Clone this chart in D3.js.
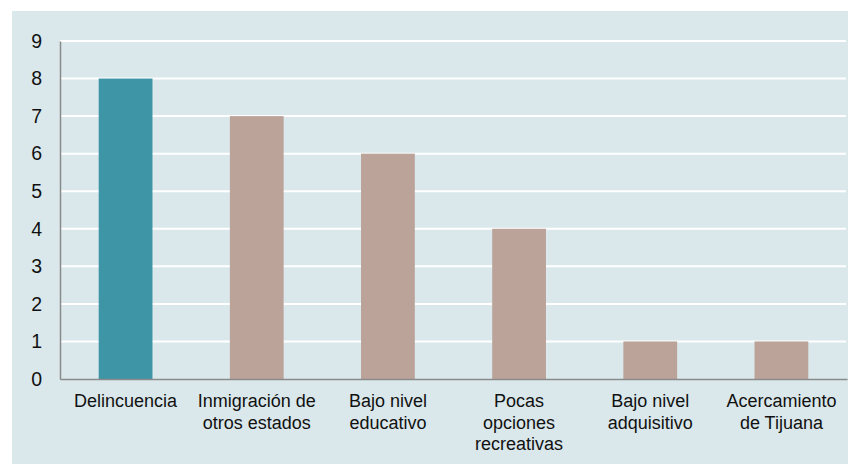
<!DOCTYPE html>
<html lang="es">
<head>
    <meta charset="UTF-8">
    <title>Barras</title>
    <script src="https://d3js.org/d3.v7.min.js"></script>
    <style>
        body { margin: 0; background: #fff; }
    </style>
</head>
<body>
<script>
    const width  = 861;
    const height = 464;

    // datos
    const categories = [
        ["Delincuencia"],
        ["Inmigración de", "otros estados"],
        ["Bajo nivel", "educativo"],
        ["Pocas", "opciones", "recreativas"],
        ["Bajo nivel", "adquisitivo"],
        ["Acercamiento", "de Tijuana"]
    ];
    const values = [8, 7, 6, 4, 1, 1];
    const yTicks = [0, 1, 2, 3, 4, 5, 6, 7, 8, 9];

    const plot = {left: 60, right: 847, top: 41, bottom: 379};

    const svg = d3.select("body")
            .append("svg")
            .attr("width", width)
            .attr("height", height)
            .style("font-family", "'Liberation Sans', Arial, sans-serif");

    // panel de fondo
    svg.append("rect")
            .attr("x", 12).attr("y", 11)
            .attr("width", 836).attr("height", 453)
            .attr("fill", "#dae8eb");

    const x = d3.scaleBand()
            .domain(d3.range(categories.length))
            .range([plot.left, plot.right])
            .paddingInner(0.59)
            .paddingOuter(0.295);

    const y = d3.scaleLinear()
            .domain([0, 9])
            .range([plot.bottom, plot.top]);

    // cuadrícula
    svg.append("g")
            .selectAll("line")
            .data(yTicks.filter(d => d > 0))
            .join("line")
            .attr("x1", plot.left)
            .attr("x2", plot.right - 1)
            .attr("y1", d => y(d))
            .attr("y2", d => y(d))
            .attr("stroke", "#ffffff")
            .attr("stroke-width", 2);

    // barras
    svg.append("g")
            .selectAll("rect")
            .data(values)
            .join("rect")
            .attr("x", (d, i) => x(i))
            .attr("y", d => y(d))
            .attr("width", x.bandwidth())
            .attr("height", d => y(0) - y(d))
            .attr("fill", (d, i) => i === 0 ? "#3d95a6" : "#bba39a");

    // eje y
    const yAxis = svg.append("g")
            .attr("transform", "translate(" + plot.left + ",0)")
            .call(d3.axisLeft(y).tickValues(yTicks).tickSize(0).tickPadding(18));
    yAxis.select(".domain").attr("stroke", "#8a8a8a").attr("stroke-width", 1.5);
    yAxis.selectAll("text")
            .style("font-size", "19.5px")
            .attr("fill", "#111")
            .attr("font-family", "'Liberation Sans', Arial, sans-serif");

    // eje x
    const xAxis = svg.append("g")
            .attr("transform", "translate(0," + plot.bottom + ")")
            .call(d3.axisBottom(x).tickSize(0).tickFormat(""));
    xAxis.select(".domain").attr("stroke", "#8a8a8a").attr("stroke-width", 1.5);

    xAxis.selectAll(".tick")
            .append("text")
            .attr("text-anchor", "middle")
            .attr("fill", "#111")
            .style("font-size", "18px")
            .attr("font-family", "'Liberation Sans', Arial, sans-serif")
            .selectAll("tspan")
            .data((d, i) => categories[i])
            .join("tspan")
            .attr("x", 0)
            .attr("y", (d, j) => 28 + j * 21.5)
            .text(d => d);
</script>
</body>
</html>
